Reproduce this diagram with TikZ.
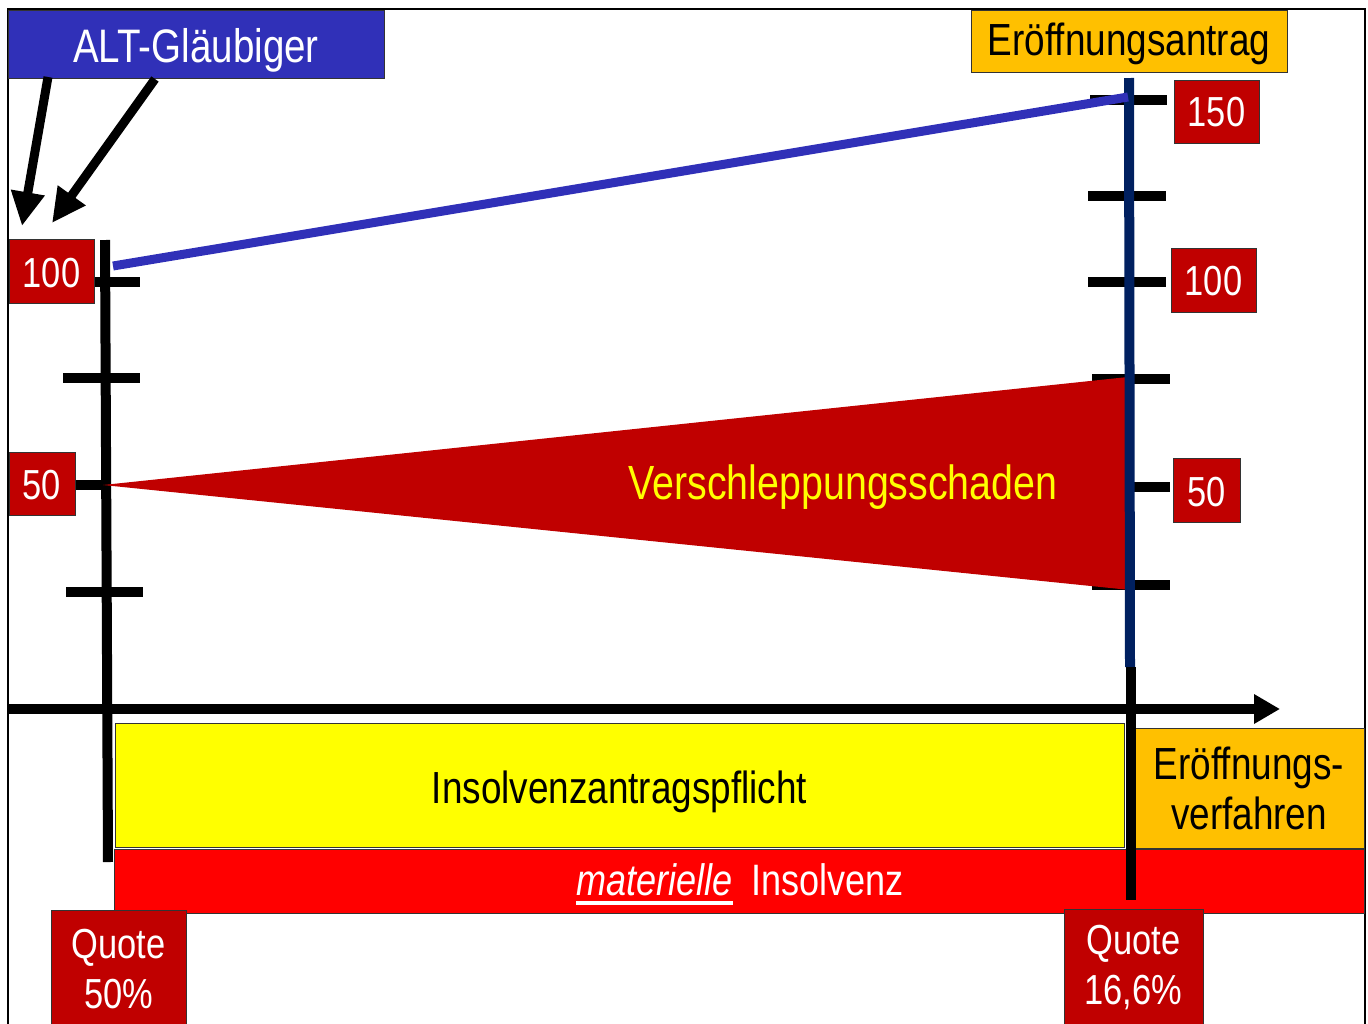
\documentclass[tikz,border=0pt]{standalone}
\usepackage{fontspec}
\setmainfont{Liberation Sans}[FakeStretch=0.82]
\usetikzlibrary{arrows.meta}
\definecolor{altblue}{RGB}{48,48,184}
\definecolor{navy}{RGB}{0,32,96}
\definecolor{darkred}{RGB}{192,0,0}
\definecolor{amber}{RGB}{255,192,0}
\definecolor{brightred}{RGB}{255,0,0}
\definecolor{pureyellow}{RGB}{255,255,0}
\begin{document}
\begin{tikzpicture}[x=1pt,y=-1pt,
  lbl/.style={draw=black!80, line width=1pt, inner sep=0pt, align=center,
    font=\fontsize{42}{50}\selectfont},
  numbox/.style={lbl, fill=darkred, text=white},
  oneline/.style={text height=#1, text depth=0pt},
  bigtext/.style={font=\fontsize{45}{50}\selectfont},
  tickmark/.style={line width=10pt},
  bigarrow/.style={line width=9pt, -{Triangle[length=34pt,width=32pt]}}
]
\useasboundingbox (0,0) rectangle (1368,1023);
% outer frame
\draw[line width=1.5pt] (8,9) rectangle (1365,1040);

% time bars
\node[lbl, fill=pureyellow, bigtext, oneline=36pt, minimum width=1009pt, minimum height=124pt]
  (pflicht) at (619.5,785) {Insolvenzantragspflicht};
\node[lbl, fill=amber, bigtext, minimum width=230pt, minimum height=120pt]
  (verf) at (1249,788) {Eröffnungs-\\verfahren};
\node[lbl, fill=brightred, minimum width=1250pt, minimum height=64pt]
  (mat) at (739,881) {};
\node[inner sep=0pt, text=white, font=\fontsize{44}{50}\selectfont\itshape, anchor=base west]
  (matw) at (576,895) {materielle};
\node[inner sep=0pt, text=white, font=\fontsize{44}{50}\selectfont, anchor=base west]
  (insw) at (751,895) {Insolvenz};
\draw[white, line width=4pt] ([yshift=-8pt]matw.base west) -- ([yshift=-8pt]matw.base east);

% time axis
\coordinate (xs) at (8,709);
\coordinate (xe) at (1280,709);
\draw[line width=10pt, -{Triangle[length=26pt,width=28pt]}] (xs) -- (xe);

% left value axis with ticks
\coordinate (lt) at (105,240);
\coordinate (lb) at (108,862);
\draw[line width=10pt] (lt) -- (lb);
\draw[tickmark] (94,282) -- (140,282);
\draw[tickmark] (63,378) -- (140,378);
\draw[tickmark] (75,485) -- (108,485);
\draw[tickmark] (66,592) -- (143,592);

% right value axis ticks
\draw[tickmark] (1090,100) -- (1167,100);
\draw[tickmark] (1088,196) -- (1166,196);
\draw[tickmark] (1088,282) -- (1166,282);
\draw[tickmark] (1092,379) -- (1170,379);
\draw[tickmark] (1128,487) -- (1170,487);
\draw[tickmark] (1092,585) -- (1170,585);

% damage wedge
\fill[darkred] (103,485) -- (1128,377) -- (1130,590) -- cycle;
\node[text=pureyellow, oneline=34pt, inner sep=0pt, font=\fontsize{48}{50}\selectfont] (vs) at (843,482) {Verschleppungsschaden};

% right axis
\coordinate (rt) at (1129,78);
\coordinate (rm) at (1130,667);
\coordinate (rb) at (1131,900);
\draw[navy, line width=10pt] (rt) -- (rm);
\draw[line width=10pt] ([xshift=1pt]rm) -- (rb);

% creditor line
\coordinate (q0) at (113,266);
\coordinate (q1) at (1128,97);
\draw[altblue, line width=9pt] (q0) -- (q1);

% labels
\node[lbl, fill=altblue, text=white, oneline=36pt, font=\fontsize{47}{50}\selectfont,
  minimum width=376pt, minimum height=68pt] (alt) at (196,44) {ALT-Gläubiger};
\node[lbl, fill=amber, bigtext, oneline=29pt, minimum width=316pt, minimum height=62pt]
  (antrag) at (1129,41) {Eröffnungsantrag};
\node[numbox, oneline=32pt, minimum width=85pt, minimum height=64pt] (l100) at (51.5,271) {100};
\node[numbox, oneline=32pt, minimum width=66pt, minimum height=63pt] (l50) at (42,483.5) {50};
\node[numbox, oneline=29pt, minimum width=85pt, minimum height=63pt] (r150) at (1216.5,111.5) {150};
\node[numbox, oneline=30pt, minimum width=85pt, minimum height=64pt] (r100) at (1213.5,280) {100};
\node[numbox, oneline=32pt, minimum width=67pt, minimum height=64pt] (r50) at (1206.5,490) {50};
\node[numbox, minimum width=135pt, minimum height=118pt] (q50) at (118.5,969) {Quote\\50\%};
\node[numbox, minimum width=139pt, minimum height=118pt] (q166) at (1133.5,968) {Quote\\16,6\%};

% pointers from the creditor label
\coordinate (a1s) at (48,77);
\coordinate (a1e) at (22,226);
\coordinate (a2s) at (155,79);
\coordinate (a2e) at (52,223);
\draw[bigarrow] (a1s) -- (a1e);
\draw[bigarrow] (a2s) -- (a2e);
\end{tikzpicture}
\end{document}
